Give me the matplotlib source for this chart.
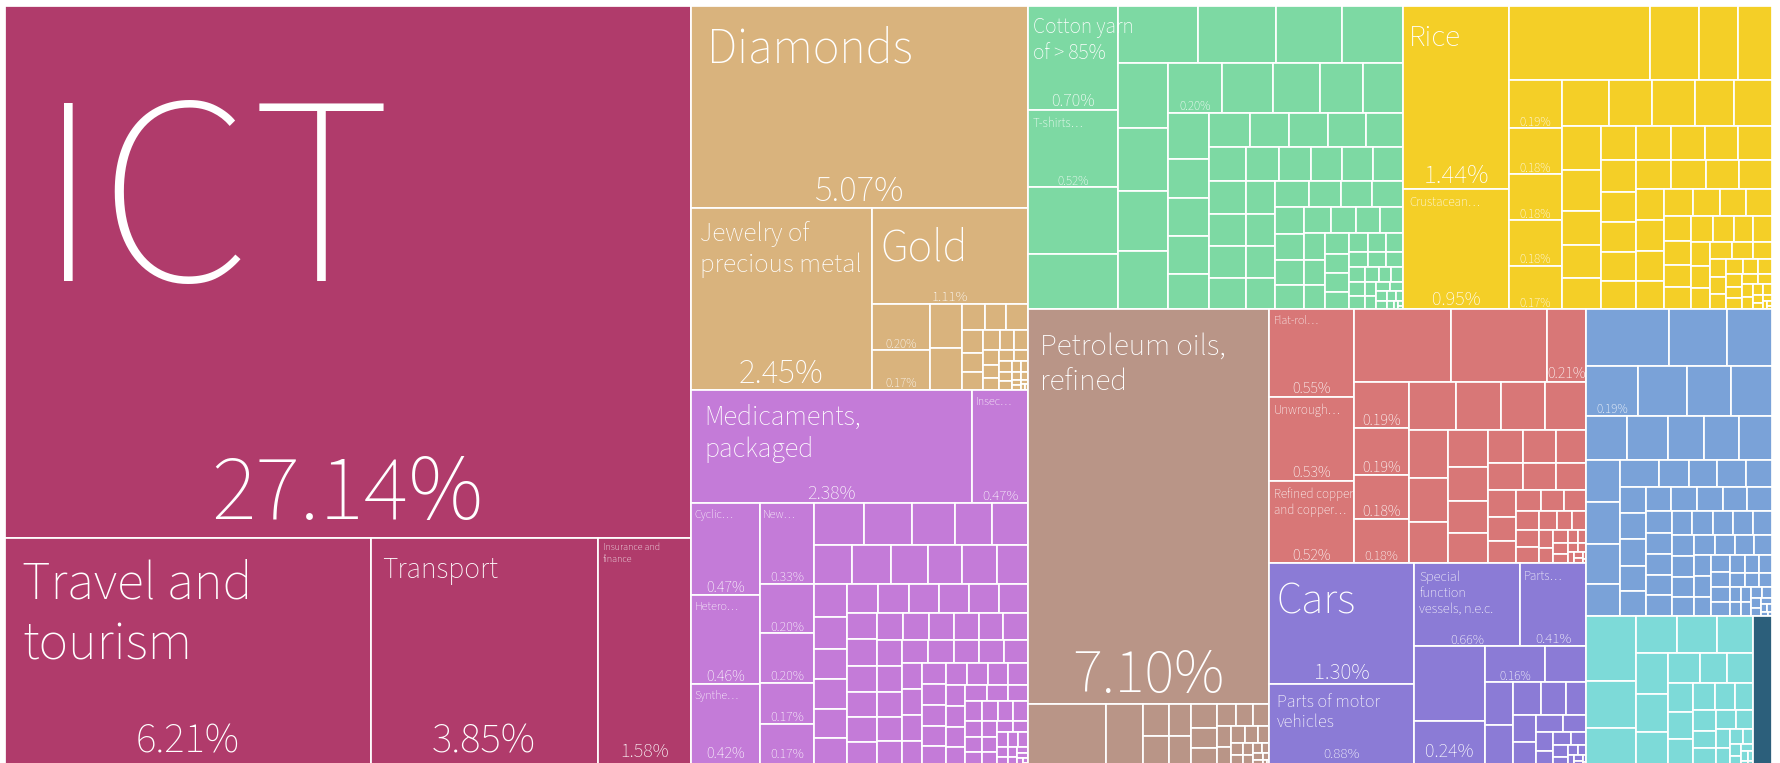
import textwrap
import matplotlib
matplotlib.use("Agg")
import matplotlib.pyplot as plt
from matplotlib.patches import Rectangle

plt.rcParams["font.family"] = ["Source Sans 3", "Source Sans Pro", "Roboto", "DejaVu Sans"]

# ---------------- data: share of exports (%) ----------------
group_names = ["Services", "Precious Metals", "Chemical Products", "Textiles",
               "Vegetable Products", "Mineral Products", "Metals", "Transportation",
               "Machines", "Instruments", "Other"]
group_colors = ["#B03B6B", "#D9B37D", "#C47BD8", "#7DD9A3", "#F4CF27", "#B99587",
                "#D87777", "#8B7BD6", "#7AA2D8", "#7DDAD8", "#2C5F7B"]

services_names = ["ICT", "Travel and tourism", "Transport", "Insurance and finance"]
services_values = [27.14, 6.21, 3.85, 1.58]

precious_names = ["Diamonds", "Jewelry of precious metal", "Gold"]
precious_values = [5.07, 2.45, 1.11, 0.20, 0.17, 0.105, 0.10, 0.045, 0.043, 0.042,
                   0.035, 0.03, 0.028, 0.025, 0.022, 0.02, 0.018, 0.016, 0.014, 0.012,
                   0.011, 0.01, 0.009, 0.008, 0.007, 0.006, 0.005, 0.004, 0.003, 0.003,
                   0.002, 0.002, 0.001]

chem_names = ["Medicaments, packaged", "Insec\u2026", "Cyclic\u2026", "Hetero\u2026",
              "Synthe\u2026", "New\u2026"]
chem_values = [2.38, 0.47, 0.47, 0.46, 0.42, 0.33, 0.20, 0.20, 0.17, 0.17,
               0.156, 0.147, 0.134, 0.116, 0.112, 0.11, 0.11, 0.107, 0.10, 0.099, 0.09,
               0.08, 0.078, 0.074, 0.072, 0.07, 0.068, 0.066, 0.066, 0.065, 0.064,
               0.063, 0.062, 0.06, 0.06, 0.058, 0.056, 0.055, 0.054, 0.053, 0.052,
               0.05, 0.05, 0.05, 0.049, 0.048, 0.047, 0.046, 0.045, 0.045, 0.045, 0.044,
               0.043, 0.042, 0.041, 0.04, 0.04, 0.04, 0.039, 0.038, 0.037, 0.036, 0.035,
               0.035, 0.035, 0.034, 0.033, 0.032, 0.031, 0.03, 0.029, 0.028, 0.027,
               0.026, 0.025, 0.024, 0.023, 0.022, 0.021, 0.02, 0.019, 0.018, 0.017,
               0.016, 0.015, 0.014, 0.013, 0.012, 0.011, 0.01, 0.009, 0.008, 0.007,
               0.006, 0.005, 0.004, 0.003, 0.002, 0.001]

textile_names = ["Cotton yarn of > 85%", "T-shirts\u2026"]
textile_values = [0.70, 0.52, 0.45, 0.37, 0.34, 0.33, 0.28, 0.26, 0.24, 0.235, 0.225,
                  0.215, 0.20, 0.19, 0.175, 0.16, 0.148, 0.14, 0.12, 0.118, 0.116, 0.107,
                  0.104, 0.10, 0.10, 0.098, 0.095, 0.092, 0.09, 0.09, 0.088, 0.085,
                  0.082, 0.08, 0.08, 0.078, 0.075, 0.072, 0.07, 0.07, 0.068, 0.065,
                  0.062, 0.06, 0.06, 0.058, 0.056, 0.054, 0.052, 0.05, 0.048, 0.046,
                  0.044, 0.042, 0.04, 0.038, 0.036, 0.034, 0.032, 0.03, 0.028, 0.026,
                  0.024, 0.022, 0.02, 0.019, 0.018, 0.017, 0.016, 0.015, 0.014, 0.013,
                  0.012, 0.011, 0.01, 0.009, 0.008, 0.007, 0.006, 0.005, 0.004, 0.003,
                  0.002, 0.001]

veg_names = ["Rice", "Crustacean\u2026"]
veg_values = [1.44, 0.95, 0.78, 0.27, 0.21, 0.19, 0.19, 0.18, 0.18, 0.18, 0.17, 0.164,
              0.147, 0.147, 0.137, 0.13, 0.127, 0.118, 0.10, 0.095, 0.09, 0.09, 0.088,
              0.086, 0.085, 0.085, 0.083, 0.08, 0.078, 0.076, 0.075, 0.074, 0.072, 0.07,
              0.068, 0.066, 0.064, 0.062, 0.06, 0.058, 0.056, 0.054, 0.052, 0.05, 0.048,
              0.046, 0.044, 0.042, 0.04, 0.038, 0.036, 0.034, 0.032, 0.03, 0.028, 0.026,
              0.024, 0.022, 0.02, 0.019, 0.018, 0.017, 0.016, 0.015, 0.014, 0.013, 0.012,
              0.011, 0.01, 0.009, 0.008, 0.007, 0.006, 0.005, 0.004, 0.003, 0.002, 0.001]

mineral_names = ["Petroleum oils, refined"]
mineral_values = [7.10, 0.36, 0.17, 0.06, 0.058, 0.05, 0.048, 0.045, 0.04, 0.035, 0.03,
                  0.028, 0.025, 0.022, 0.02, 0.018, 0.016, 0.014, 0.012, 0.01, 0.009,
                  0.008, 0.007, 0.006, 0.005, 0.004, 0.003, 0.002, 0.001]

metal_names = ["Flat-rol\u2026", "Unwrough\u2026", "Refined copper and copper\u2026"]
metal_values = [0.55, 0.53, 0.52, 0.52, 0.52, 0.21, 0.19, 0.19, 0.18, 0.18, 0.17, 0.165,
                0.16, 0.15, 0.14, 0.13, 0.12, 0.11, 0.1, 0.095, 0.09, 0.085, 0.08, 0.075,
                0.07, 0.065, 0.06, 0.055, 0.05, 0.045, 0.04, 0.038, 0.035, 0.032, 0.03,
                0.028, 0.025, 0.022, 0.02, 0.018, 0.016, 0.014, 0.012, 0.01, 0.009,
                0.008, 0.007, 0.006, 0.005, 0.004, 0.003, 0.002, 0.001]

transport_names = ["Cars", "Parts of motor vehicles", "Special function vessels, n.e.c.",
                   "Parts\u2026"]
transport_values = [1.30, 0.88, 0.66, 0.41, 0.40, 0.24, 0.16, 0.11, 0.09, 0.085, 0.065,
                    0.06, 0.05, 0.045, 0.04, 0.035, 0.03, 0.025, 0.02, 0.018, 0.015,
                    0.012, 0.01, 0.008, 0.006, 0.005, 0.004, 0.003, 0.002, 0.001]

machine_names = []
machine_values = [0.35, 0.25, 0.19, 0.19, 0.18, 0.16, 0.15, 0.134, 0.134, 0.121, 0.115,
                  0.108, 0.106, 0.104, 0.10, 0.08, 0.078, 0.06, 0.058, 0.058, 0.052,
                  0.05, 0.05, 0.05, 0.048, 0.048, 0.046, 0.046, 0.045, 0.044, 0.044,
                  0.042, 0.042, 0.04, 0.04, 0.04, 0.038, 0.038, 0.036, 0.036, 0.035,
                  0.035, 0.035, 0.034, 0.032, 0.03, 0.03, 0.028, 0.027, 0.026, 0.025,
                  0.024, 0.023, 0.022, 0.021, 0.02, 0.019, 0.018, 0.017, 0.016, 0.015,
                  0.014, 0.013, 0.012, 0.011, 0.01, 0.009, 0.008, 0.007, 0.006, 0.005,
                  0.004, 0.003, 0.002, 0.001]

instrument_names = []
instrument_values = [0.24, 0.175, 0.14, 0.112, 0.11, 0.10, 0.097, 0.091, 0.08, 0.07,
                     0.06, 0.058, 0.055, 0.05, 0.05, 0.045, 0.04, 0.038, 0.035, 0.03,
                     0.03, 0.028, 0.025, 0.02, 0.018, 0.015, 0.012, 0.01, 0.008, 0.006,
                     0.005, 0.004, 0.003, 0.002]

other_names = []
other_values = [0.21]

group_items = [
    (services_names, services_values), (precious_names, precious_values),
    (chem_names, chem_values), (textile_names, textile_values),
    (veg_names, veg_values), (mineral_names, mineral_values),
    (metal_names, metal_values), (transport_names, transport_values),
    (machine_names, machine_values), (instrument_names, instrument_values),
    (other_names, other_values),
]

# label styling: (group, item index) -> (name px, percent px, wrap chars, extra top gap px)
LABELS = {
    ("Services", 0): (270, 94, None, 6),
    ("Services", 1): (55, 43, 10, 0),
    ("Services", 2): (29.5, 43, None, 3),
    ("Services", 3): (10, 20, 13, 0),
    ("Precious Metals", 0): (50, 37, None, 0),
    ("Precious Metals", 1): (27, 35, 14, 0),
    ("Precious Metals", 2): (46, 15, None, 0),
    ("Precious Metals", 3): (None, 13, None, 0),
    ("Precious Metals", 4): (None, 13, None, 0),
    ("Chemical Products", 0): (28, 20, 12, 0),
    ("Chemical Products", 1): (12, 15, None, 0),
    ("Chemical Products", 2): (12, 16, None, 0),
    ("Chemical Products", 3): (12, 16, None, 0),
    ("Chemical Products", 4): (12, 16, None, 0),
    ("Chemical Products", 5): (12, 14, None, 0),
    ("Chemical Products", 6): (None, 14, None, 0),
    ("Chemical Products", 7): (None, 14, None, 0),
    ("Chemical Products", 8): (None, 14, None, 0),
    ("Chemical Products", 9): (None, 14, None, 0),
    ("Textiles", 0): (21.5, 18, 11, 0),
    ("Textiles", 1): (13, 13, None, 0),
    ("Textiles", 12): (None, 13, None, 0),
    ("Vegetable Products", 0): (31, 27, None, 3),
    ("Vegetable Products", 1): (13, 20, None, 0),
    ("Vegetable Products", 6): (None, 13, None, 0),
    ("Vegetable Products", 7): (None, 13, None, 0),
    ("Vegetable Products", 8): (None, 13, None, 0),
    ("Vegetable Products", 9): (None, 13, None, 0),
    ("Vegetable Products", 10): (None, 13, None, 0),
    ("Mineral Products", 0): (31, 63, 15, 8),
    ("Metals", 0): (12, 16, None, 0),
    ("Metals", 1): (13, 16, None, 0),
    ("Metals", 2): (13, 16, 14, 0),
    ("Metals", 5): (None, 16, None, 0),
    ("Metals", 6): (None, 16, None, 0),
    ("Metals", 7): (None, 16, None, 0),
    ("Metals", 8): (None, 16, None, 0),
    ("Metals", 9): (None, 14, None, 0),
    ("Transportation", 0): (45, 23, None, 0),
    ("Transportation", 1): (18, 15, 14, 0),
    ("Transportation", 2): (14, 14, 15, 0),
    ("Transportation", 3): (13, 15, None, 0),
    ("Transportation", 5): (None, 20, None, 0),
    ("Transportation", 6): (None, 13, None, 0),
    ("Machines", 3): (None, 13, None, 0),
}

W, H = 1781, 763
BOX = (5, 6, 1772, 766)   # treemap area in pixels
PT = 0.72                 # px -> pt at dpi 100


def squarify(values, x0, y0, x1, y1):
    # same rules as d3.treemapSquarify with ratio 1
    rects = []
    n = len(values)
    remaining = float(sum(values))
    i0 = 0
    while i0 < n:
        dx, dy = x1 - x0, y1 - y0
        i1 = i0 + 1
        row_sum = values[i0]
        lo = hi = row_sum
        alpha = max(dy / dx, dx / dy) / remaining
        beta = row_sum * row_sum * alpha
        best = max(hi / beta, beta / lo)
        while i1 < n:
            v = values[i1]
            s = row_sum + v
            beta = s * s * alpha
            ratio = max(max(hi, v) / beta, beta / min(lo, v))
            if ratio > best:
                break
            row_sum, best = s, ratio
            lo, hi = min(lo, v), max(hi, v)
            i1 += 1
        row = values[i0:i1]
        if dx < dy:
            yb = y1 if i1 == n else y0 + dy * row_sum / remaining
            xx = x0
            for v in row:
                w = dx * v / row_sum
                rects.append((xx, y0, xx + w, yb))
                xx += w
            y0 = yb
        else:
            xb = x1 if i1 == n else x0 + dx * row_sum / remaining
            yy = y0
            for v in row:
                h = dy * v / row_sum
                rects.append((x0, yy, xb, yy + h))
                yy += h
            x0 = xb
        remaining -= row_sum
        i0 = i1
    return rects


def weight(px):
    return 300 if px >= 24 else 400


fig = plt.figure(figsize=(W / 100, H / 100), dpi=100)
ax = fig.add_axes([0, 0, 1, 1])
ax.set_xlim(0, W)
ax.set_ylim(H, 0)
ax.axis("off")

totals = [sum(v) for _, v in group_items]
order = sorted(range(len(group_names)), key=lambda i: -totals[i])
group_rects = squarify([totals[i] for i in order], *BOX)

for gi, grect in zip(order, group_rects):
    gname = group_names[gi]
    names, values = group_items[gi]
    idx = sorted(range(len(values)), key=lambda k: -values[k])
    rects = squarify([values[k] for k in idx], *grect)
    for k, (x0, y0, x1, y1) in zip(idx, rects):
        ax.add_patch(Rectangle((x0, y0), x1 - x0, y1 - y0, facecolor=group_colors[gi],
                               edgecolor="white", linewidth=1.25))
        style = LABELS.get((gname, k))
        if style is None:
            continue
        name_px, pct_px, wrap, extra = style
        w = x1 - x0
        if name_px and k < len(names):
            txt = names[k]
            if wrap:
                txt = textwrap.fill(txt, wrap)
            gap = 0.3 * name_px + 0.25 * min(name_px, 28) + extra - 0.05 * name_px
            ax.text(x0 + 1 + 0.045 * w, y0 + gap, txt, color="white",
                    fontsize=name_px * PT, fontweight=weight(name_px), ha="left",
                    va="top", linespacing=1.25)
        # keep the percentage (with its descent) inside the visible picture
        base = min(y1 - 0.2 * pct_px, H - 0.22 * pct_px - 1.5)
        ax.text((x0 + x1) / 2, base, f"{values[k]:.2f}%", color="white",
                fontsize=pct_px * PT, fontweight=weight(pct_px), ha="center",
                va="baseline")

fig.savefig("out.png", dpi=100, facecolor="white")
